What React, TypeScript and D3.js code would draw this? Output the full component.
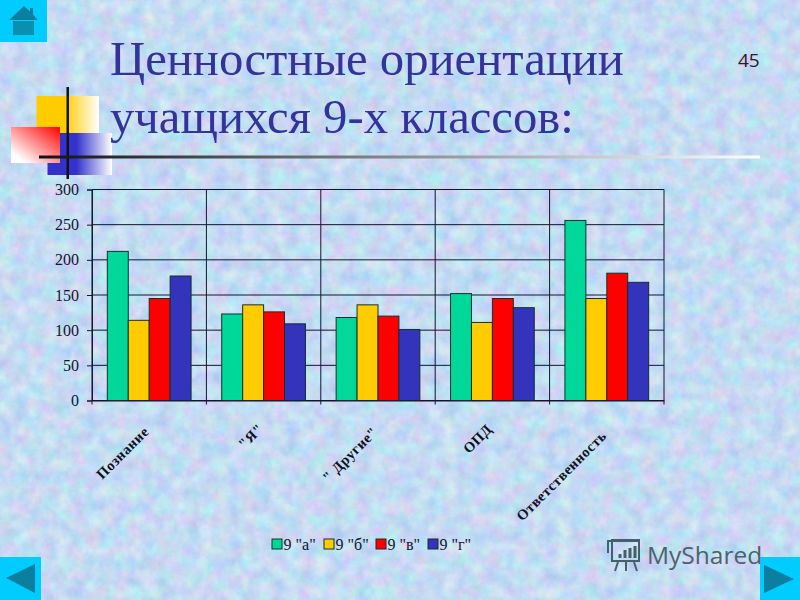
import React, { useEffect, useRef } from "react";
import * as d3 from "d3";

const categories = ["Познание", "\"Я\"", "\" Другие\"", "ОПД", "Ответственность"];
const seriesNames = ["9 \"а\"", "9 \"б\"", "9 \"в\"", "9 \"г\""];
const seriesColors = ["#00d89a", "#ffcc00", "#ff0000", "#3333bb"];

const classA = [212, 123, 118, 152, 256];
const classB = [114, 136, 136, 111, 145];
const classC = [145, 126, 120, 145, 181];
const classD = [177, 109, 101, 132, 168];
const seriesValues = [classA, classB, classC, classD];

const yTicks = [0, 50, 100, 150, 200, 250, 300];
const titleLines = ["Ценностные ориентации", "учащихся 9-х классов:"];

const serif = "'Liberation Serif', serif";
const ink = "#14142e";

const App: React.FC = () => {
  const chartRef = useRef<SVGGElement | null>(null);

  useEffect(() => {
    if (!chartRef.current) return;
    const left = 92;
    const right = 664;
    const top = 189.5;
    const bottom = 400.5;

    const x = d3.scaleBand<string>().domain(categories).range([left, right]).paddingInner(0.268).paddingOuter(0.134);
    const inner = d3.scaleBand<string>().domain(seriesNames).range([0, x.bandwidth()]);
    const y = d3.scaleLinear().domain([0, 300]).range([bottom, top]);
    const step = x.step();

    const g = d3.select(chartRef.current);
    g.selectAll("*").remove();

    // Сетка
    g.append("g")
      .selectAll("line")
      .data(yTicks)
      .enter()
      .append("line")
      .attr("x1", left)
      .attr("x2", right)
      .attr("y1", (d) => y(d))
      .attr("y2", (d) => y(d))
      .attr("stroke", ink);

    g.append("g")
      .selectAll("line")
      .data(d3.range(categories.length + 1))
      .enter()
      .append("line")
      .attr("x1", (i) => left + i * step)
      .attr("x2", (i) => left + i * step)
      .attr("y1", top)
      .attr("y2", bottom + 4)
      .attr("stroke", ink);

    // Столбцы
    seriesNames.forEach((name, s) => {
      g.append("g")
        .selectAll("rect")
        .data(seriesValues[s])
        .enter()
        .append("rect")
        .attr("x", (_, i) => x(categories[i])! + inner(name)!)
        .attr("y", (d) => y(d))
        .attr("width", inner.bandwidth())
        .attr("height", (d) => bottom - y(d))
        .attr("fill", seriesColors[s])
        .attr("stroke", "#123030")
        .attr("stroke-width", 1);
    });

    const yAxis = g.append("g")
      .attr("transform", `translate(${left},0)`)
      .call(d3.axisLeft(y).tickValues(yTicks).tickSize(5).tickPadding(8));
    yAxis.select(".domain").attr("stroke", ink);
    yAxis.selectAll("line").attr("stroke", ink);
    yAxis.selectAll("text")
      .attr("fill", "#14142e")
      .style("font-family", serif)
      .style("font-size", "16px");

    const xAxis = g.append("g")
      .attr("transform", `translate(0,${bottom})`)
      .call(d3.axisBottom(x).tickSize(0));
    xAxis.select(".domain").attr("stroke", ink);
    xAxis.selectAll<SVGTextElement, string>("text")
      .attr("fill", "#10101c")
      .attr("text-anchor", "end")
      .attr("y", 0)
      .attr("dy", "0.35em")
      .style("font-family", serif)
      .style("font-size", "14.5px")
      .style("font-weight", "bold")
      .style("letter-spacing", "0.5px")
      // длинные подписи в оригинале заканчиваются чуть ниже
      .attr("transform", function () {
        const len = this.getComputedTextLength();
        return `translate(-3,${23.5 + 0.075 * len}) rotate(-45)`;
      });

    // Легенда
    const legendX = d3.scalePoint<string>().domain(seriesNames).range([272, 428]);
    const legend = g.append("g")
      .selectAll("g")
      .data(seriesNames)
      .enter()
      .append("g")
      .attr("transform", (d) => `translate(${legendX(d)},539)`);
    legend.append("rect")
      .attr("width", 10)
      .attr("height", 10)
      .attr("fill", (_, i) => seriesColors[i])
      .attr("stroke", "#123030");
    legend.append("text")
      .attr("x", 11.5)
      .attr("y", 10.5)
      .attr("fill", "#14142e")
      .style("font-family", serif)
      .style("font-size", "16px")
      .text((d) => d);
  }, []);

  return (
    <svg
      width={800}
      height={600}
      viewBox="0 0 800 600"
      style={{ position: "absolute", left: 0, top: 0, display: "block" }}
    >
      <defs>
        <filter id="paper" x="0" y="0" width="100%" height="100%" colorInterpolationFilters="sRGB">
          <feTurbulence type="fractalNoise" baseFrequency="0.07" numOctaves={4} seed={7} />
          <feColorMatrix
            type="matrix"
            values="0.3 0 0 0 0.62  0 0.22 0 0 0.75  0 0 0.1 0 0.9  0 0 0 0 1"
          />
        </filter>
        <linearGradient id="yellowFade" x1="0" x2="1" y1="0" y2="0">
          <stop offset="0.45" stopColor="#ffcc00" />
          <stop offset="1" stopColor="#ffffff" />
        </linearGradient>
        <linearGradient id="blueFade" x1="0" x2="1" y1="0" y2="0">
          <stop offset="0.45" stopColor="#3333cc" />
          <stop offset="1" stopColor="#ffffff" />
        </linearGradient>
        <linearGradient id="redFade" x1="1" x2="0" y1="0" y2="1">
          <stop offset="0" stopColor="#ff0000" />
          <stop offset="0.85" stopColor="#ffffff" />
        </linearGradient>
        <linearGradient id="ruleFade" x1="0" x2="1" y1="0" y2="0">
          <stop offset="0" stopColor="#111111" />
          <stop offset="0.35" stopColor="#666666" />
          <stop offset="1" stopColor="#ffffff" />
        </linearGradient>
      </defs>

      <rect width={800} height={600} filter="url(#paper)" />

      <rect x={36.5} y={96} width={62.5} height={37} fill="url(#yellowFade)" />
      <rect x={47.5} y={133} width={64.5} height={42} fill="url(#blueFade)" />
      <rect x={11} y={127} width={49} height={36} fill="url(#redFade)" />
      <rect x={66.5} y={87} width={2.5} height={92} fill="#111111" />
      <rect x={39} y={155.5} width={721} height={3} fill="url(#ruleFade)" />

      <g fontFamily={serif} fontSize={48.7} fill="#333399">
        <text x={110} y={75}>{titleLines[0]}</text>
        <text x={110} y={133}>{titleLines[1]}</text>
      </g>
      <text x={738} y={67} fontFamily="'Open Sans', sans-serif" fontSize={19} fill="#222222">45</text>

      <g ref={chartRef} />

      {/* кнопки */}
      <rect x={0} y={0} width={47} height={42} fill="#00ccff" />
      <path d="M9 20 L24 6 L30 11.5 L30 8 L33 8 L33 14.5 L38 20 Z" fill="#0a7f9f" />
      <path d="M13 21 H34 V35 H13 Z" fill="#0a8fb0" />
      <rect x={0} y={557} width={41} height={43} fill="#00ccff" />
      <path d="M6 578 L35 564 V593 Z" fill="#0a7f9f" />
      <rect x={760} y={557} width={40} height={43} fill="#00ccff" />
      <path d="M764 565 L794 579 L764 593 Z" fill="#0a7f9f" />

      {/* водяной знак */}
      <g stroke="#44606b" strokeWidth={2} fill="none">
        <rect x={612} y={540} width={27} height={21} />
        <path d="M608 553 V541 H640" />
        <path d="M618 562 L615 571 M626 562 V571 M634 562 L637 571" />
        <path d="M620 558 V554 M625 558 V550 M630 558 V548 M635 558 V546" strokeWidth={3} />
      </g>
      <text x={647} y={564} fontFamily="'Open Sans', sans-serif" fontSize={24.5} fill="#4d626d">MyShared</text>
    </svg>
  );
};

export default App;
